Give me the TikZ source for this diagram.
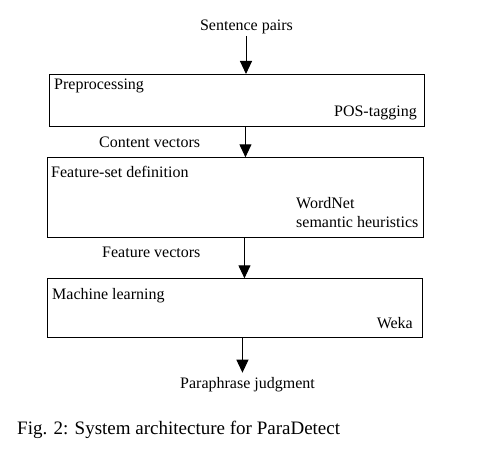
\documentclass[tikz,border=0pt]{standalone}
\usepackage{fontspec}
\setmainfont{Liberation Serif}
\usetikzlibrary{arrows.meta}
\begin{document}
\begin{tikzpicture}[x=1pt,y=-1pt,
  box/.style={draw,line width=0.9pt,inner sep=0pt,anchor=north west},
  lbl/.style={inner sep=0pt,font=\fontsize{16}{19}\selectfont},
  captext/.style={inner sep=0pt,font=\fontsize{19}{23}\selectfont},
  arr/.style={line width=1pt,-{Triangle[width=12pt,length=13pt]}}]
\useasboundingbox (0,0) rectangle (485,452);
% boxes
\node[box,minimum width=375pt,minimum height=52pt] (b1) at (49,74) {};
\node[box,minimum width=375.4pt,minimum height=80pt] (b2) at (47.3,157.3) {};
\node[box,minimum width=374.4pt,minimum height=59pt] (b3) at (47.3,278.3) {};
% texts
\node[lbl,anchor=base] (sp) at (246.5,30.6) {Sentence pairs};
\node[lbl,anchor=base west] (t1) at (54,90) {Preprocessing};
\node[lbl,anchor=base east] (t2) at (417,117) {POS-tagging};
\node[lbl,anchor=base west] (cv) at (99,147.3) {Content vectors};
\node[lbl,anchor=base west] (t3) at (51,177) {Feature-set definition};
\node[lbl,anchor=base west] (t4) at (296,208) {WordNet};
\node[lbl,anchor=base west] (t5) at (296,227) {semantic heuristics};
\node[lbl,anchor=base west] (fv) at (102,257.3) {Feature vectors};
\node[lbl,anchor=base west] (t6) at (52,299) {Machine learning};
\node[lbl,anchor=base east] (t7) at (413,328) {Weka};
\node[lbl,anchor=base] (pj) at (247.5,388) {Paraphrase judgment};
\node[captext,anchor=base west] (fig) at (17,434) {Fig. 2: System architecture for ParaDetect};
% connectors
\coordinate (a1) at (246,36);
\draw[arr] (a1) -- (a1 |- b1.north);
\draw[arr] ([xshift=8.5pt]b1.south) -- ([xshift=10pt]b2.north);
\draw[arr] ([xshift=9pt]b2.south) -- ([xshift=9.5pt]b3.north);
\draw[arr] ([xshift=7.5pt]b3.south) -- ([xshift=7.5pt,yshift=4pt]b3.south |- pj.north);
\end{tikzpicture}
\end{document}
